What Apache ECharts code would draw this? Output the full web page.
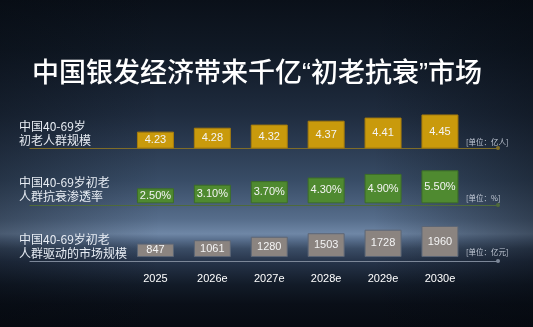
<!DOCTYPE html>
<html>
<head>
<meta charset="utf-8">
<script src="https://cdn.jsdelivr.net/npm/echarts@6/dist/echarts.min.js"></script>
<style>
  html, body { margin: 0; padding: 0; background: #0a1019; }
  #chart { width: 533px; height: 327px; }
</style>
</head>
<body>
<div id="chart"></div>
<script>
// Years shown along the bottom axis
const years = ['2025', '2026e', '2027e', '2028e', '2029e', '2030e'];
// 40-69 early-ageing population (亿人)
const population = [4.23, 4.28, 4.32, 4.37, 4.41, 4.45];
// Anti-ageing penetration rate (%)
const penetration = [2.50, 3.10, 3.70, 4.30, 4.90, 5.50];
// Market size driven by this group (亿元)
const marketSize = [847, 1061, 1280, 1503, 1728, 1960];

const rowLabels = ['中国40-69岁\n初老人群规模', '中国40-69岁初老\n人群抗衰渗透率', '中国40-69岁初老\n人群驱动的市场规模'];
const unitLabels = ['[单位：亿人]', '[单位：%]', '[单位：亿元]'];

const CJK = '"Noto Sans CJK SC", "Noto Sans", sans-serif';

const rows = [
  { data: population, top: 108, min: 4.02, max: 4.533, color: '#c99a0c', border: '#a67c0c', line: '#7f6d28', fmt: v => v.toFixed(2) },
  { data: penetration, top: 165, min: -0.28, max: 6.387, color: '#4f8a30', border: '#3c6e27', line: '#4f6a3a', fmt: v => v.toFixed(2) + '%' },
  { data: marketSize, top: 221, min: -254, max: 2277, color: '#8b8480', border: '#5c6676', line: '#7c8798', fmt: v => String(v) }
];
const rowH = 40;

const grids = [], xAxes = [], yAxes = [], series = [];
rows.forEach((r, i) => {
  // grid holding the bars
  grids.push({ left: 127, right: 64.6, top: r.top, height: rowH });
  // wider grid that only draws the baseline rule
  grids.push({ left: 30, right: 35, top: r.top, height: rowH });
  const gBar = i * 2, gLine = i * 2 + 1;
  xAxes.push({
    type: 'category', gridIndex: gBar, data: years,
    axisLine: { show: false }, axisTick: { show: false },
    axisLabel: {
      show: i === 2, color: '#ffffff', fontSize: 11, margin: 12,
      fontFamily: '"Liberation Sans", Arial, sans-serif'
    }
  });
  xAxes.push({
    type: 'value', gridIndex: gLine, min: 0, max: 1,
    axisLine: { show: true, symbol: ['none', 'circle'], symbolSize: [4, 4], lineStyle: { color: r.line, width: 1.2 } },
    axisTick: { show: false }, axisLabel: { show: false }, splitLine: { show: false }
  });
  yAxes.push({ type: 'value', gridIndex: gBar, min: r.min, max: r.max, show: false, splitLine: { show: false } });
  yAxes.push({ type: 'value', gridIndex: gLine, min: 0, max: 1, show: false, splitLine: { show: false } });
  series.push({
    type: 'bar', xAxisIndex: gBar, yAxisIndex: gBar, data: r.data, barWidth: 37,
    itemStyle: { color: r.color, borderColor: r.border, borderWidth: 1 },
    label: {
      show: true, position: 'inside', color: '#f4f4f4', fontSize: 11,
      fontFamily: '"Liberation Sans", Arial, sans-serif',
      formatter: p => r.fmt(p.value)
    },
    silent: true, animation: false
  });
});

const labelTops = [119, 175, 232];
const unitTops = [138, 194, 248];
const graphic = [
  // darken the left and right edges of the backdrop
  {
    type: 'rect', left: 0, top: 0, z: -10, silent: true,
    shape: { width: 533, height: 327 },
    style: {
      fill: {
        type: 'linear', x: 0, y: 0, x2: 1, y2: 0,
        colorStops: [
          { offset: 0, color: 'rgba(4,8,14,0.35)' },
          { offset: 0.3, color: 'rgba(4,8,14,0)' },
          { offset: 0.7, color: 'rgba(4,8,14,0)' },
          { offset: 1, color: 'rgba(4,8,14,0.45)' }
        ]
      }
    }
  }
];
rowLabels.forEach((t, i) => {
  graphic.push({
    type: 'text', left: 19, top: labelTops[i],
    style: { text: t, fill: '#e8edf4', font: '12px ' + CJK, lineHeight: 14 }
  });
  graphic.push({
    type: 'text', left: 466, top: unitTops[i],
    style: { text: unitLabels[i], fill: '#c3cad6', font: '7.5px ' + CJK }
  });
});

const chart = echarts.init(document.getElementById('chart'), null, { renderer: 'canvas' });
chart.setOption({
  animation: false,
  backgroundColor: {
    type: 'linear', x: 0, y: 0, x2: 0, y2: 1,
    colorStops: [
      { offset: 0, color: '#0a1019' },
      { offset: 0.15, color: '#101925' },
      { offset: 0.35, color: '#1f2c3f' },
      { offset: 0.55, color: '#384c66' },
      { offset: 0.67, color: '#566d8b' },
      { offset: 0.715, color: '#6f87a6' },
      { offset: 0.735, color: '#566c8a' },
      { offset: 0.76, color: '#3b4d66' },
      { offset: 0.8, color: '#26344a' },
      { offset: 0.87, color: '#121b28' },
      { offset: 0.93, color: '#0a0f18' },
      { offset: 1, color: '#070b12' }
    ]
  },
  title: {
    text: '中国银发经济带来千亿“初老抗衰”市场',
    left: 27, top: 56,
    textStyle: { color: '#ffffff', fontSize: 27, fontWeight: 500, fontFamily: '"Liberation Sans", "Noto Sans CJK SC", sans-serif' }
  },
  grid: grids, xAxis: xAxes, yAxis: yAxes, series: series, graphic: graphic
});
</script>
</body>
</html>
